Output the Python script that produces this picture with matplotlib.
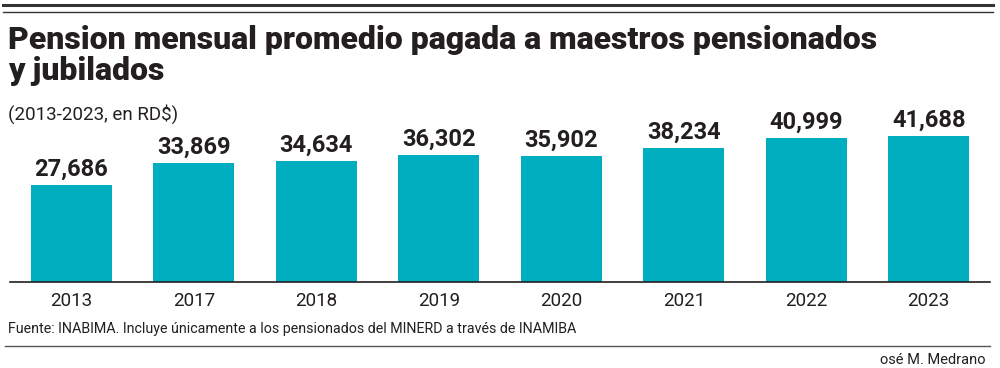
import matplotlib
matplotlib.use("Agg")
import matplotlib.pyplot as plt
from matplotlib.lines import Line2D

years = ["2013", "2017", "2018", "2019", "2020", "2021", "2022", "2023"]
pension = [27686, 33869, 34634, 36302, 35902, 38234, 40999, 41688]

W, H = 1000, 368
bar_color = "#00AEC0"
ink = "#231F20"

plt.rcParams['font.family'] = ['Roboto', 'DejaVu Sans']

fig = plt.figure(figsize=(W / 100, H / 100), dpi=100)

def fx(px):
    return px / W

def fy(py):
    return 1 - py / H

# axes: x 10..990 px, bottom at y=282, top so that 45000 maps to ~124 px
ax_top = 282 - 146 * 45000 / 41688
ax = fig.add_axes([fx(10), fy(282), fx(980), (282 - ax_top) / H])
x = range(len(years))
bars = ax.bar(x, pension, width=0.66, color=bar_color)
ax.set_xlim(-0.5, len(years) - 0.5)
ax.set_ylim(0, 45000)
ax.set_yticks([])
for s in ["top", "right", "left"]:
    ax.spines[s].set_visible(False)
ax.spines["bottom"].set_color(ink)
ax.spines["bottom"].set_linewidth(1.2)
ax.set_xticks(list(x))
ax.set_xticklabels(years, fontsize=13.5, color=ink)
ax.tick_params(axis="x", length=0, pad=7)
for b, v in zip(bars, pension):
    ax.text(b.get_x() + b.get_width() / 2, v + 1200, f"{v:,}",
            ha="center", va="bottom", fontsize=17, fontweight="bold", color=ink)

# top rules
fig.add_artist(Line2D([fx(3), fx(993)], [fy(5), fy(5)], color="#333333", lw=2.2))
fig.add_artist(Line2D([fx(3), fx(993)], [fy(12), fy(12)], color="#333333", lw=1.0))

fig.text(fx(8), fy(49), "Pension mensual promedio pagada a maestros pensionados",
         fontsize=23, fontweight="black", color=ink, va="baseline", ha="left")
fig.text(fx(8), fy(80), "y jubilados",
         fontsize=23, fontweight="black", color=ink, va="baseline", ha="left")
fig.text(fx(8), fy(120), "(2013-2023, en RD$)",
         fontsize=13.5, color=ink, va="baseline", ha="left")

fig.text(fx(8), fy(333), "Fuente: INABIMA. Incluye únicamente a los pensionados del MINERD a través de INAMIBA",
         fontsize=10.3, color=ink, va="baseline", ha="left")
fig.add_artist(Line2D([fx(5), fx(990)], [fy(346), fy(346)], color="#555555", lw=1.0))
fig.text(fx(985), fy(364), "osé M. Medrano",
         fontsize=10.5, color=ink, va="baseline", ha="right")

fig.savefig("out.png", dpi=100)
